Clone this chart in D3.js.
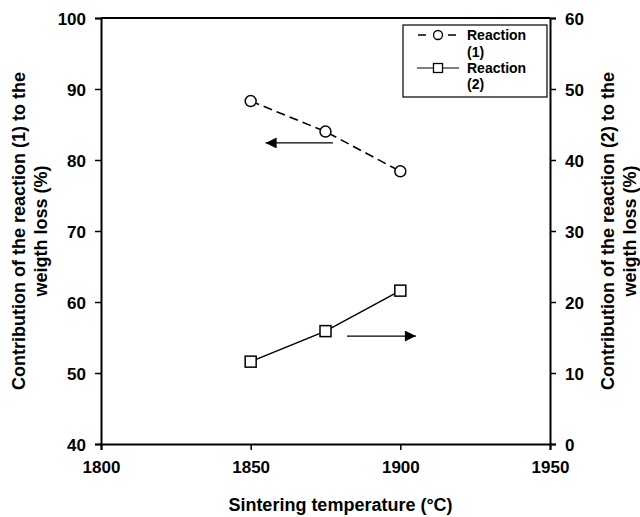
<!DOCTYPE html>
<html><head><meta charset="utf-8">
<script src="https://cdn.jsdelivr.net/npm/d3@7"></script>
<style>body{margin:0;background:#fff}svg{display:block}svg text{font-family:Arial,"Liberation Sans",sans-serif !important;font-weight:700 !important;fill:#000}</style>
</head><body>
<script>
const temperatures = [1850, 1875, 1900];
const reaction1 = [88.3, 84.0, 78.4];
const reaction2 = [11.6, 15.9, 21.6];
const xTicks = [1800, 1850, 1900, 1950];
const yLeftTicks = [40, 50, 60, 70, 80, 90, 100];
const yRightTicks = [0, 10, 20, 30, 40, 50, 60];
const seriesNames = ["Reaction (1)", "Reaction (2)"];

const W = 640, H = 517;
const m = {l: 101, r: 90, t: 18, b: 73};
const svg = d3.select("body").append("svg").attr("width", W).attr("height", H);
const x = d3.scaleLinear().domain([1800, 1950]).range([m.l, W - m.r]);
const yL = d3.scaleLinear().domain([40, 100]).range([H - m.b, m.t]);
const yR = d3.scaleLinear().domain([0, 60]).range([H - m.b, m.t]);

svg.append("defs").append("marker").attr("id", "ah").attr("viewBox", "0 0 10 10")
  .attr("refX", 10).attr("refY", 5).attr("markerWidth", 13).attr("markerHeight", 11)
  .attr("markerUnits", "userSpaceOnUse").attr("orient", "auto")
  .append("path").attr("d", "M0,0L10,5L0,10Z").attr("fill", "#000");

function styleAxis(g) {
  g.attr("font-family", null).attr("font-size", null);
  g.selectAll("path").attr("stroke", "#000").attr("stroke-width", 2);
  g.selectAll("line").attr("stroke", "#000").attr("stroke-width", 1.5);
  g.selectAll("text").attr("font-weight", "bold").style("font-size", "17px");
}
svg.append("line").attr("x1", m.l).attr("x2", W - m.r).attr("y1", m.t).attr("y2", m.t).attr("stroke", "#000").attr("stroke-width", 2);

const gx = svg.append("g").attr("transform", `translate(0,${H - m.b})`)
  .call(d3.axisBottom(x).tickValues(xTicks).tickFormat(d3.format("d")).tickSizeOuter(0).tickSize(6).tickPadding(11));
styleAxis(gx);
const gl = svg.append("g").attr("transform", `translate(${m.l},0)`)
  .call(d3.axisLeft(yL).tickValues(yLeftTicks).tickSizeOuter(0).tickSize(6).tickPadding(9));
styleAxis(gl);
gl.selectAll(".tick text").attr("dy", "0.36em");
const gr = svg.append("g").attr("transform", `translate(${W - m.r},0)`)
  .call(d3.axisRight(yR).tickValues(yRightTicks).tickSizeOuter(0).tickSize(6).tickPadding(9));
styleAxis(gr);
gr.selectAll(".tick text").attr("dy", "0.36em");

svg.append("text").attr("x", (m.l + W - m.r) / 2 + 15).attr("y", 511).attr("text-anchor", "middle")
  .style("font-size", "18px").text("Sintering temperature (°C)");
const lt = svg.append("text").attr("transform", `translate(25,231) rotate(-90)`).attr("text-anchor", "middle").style("font-size", "18px");
lt.append("tspan").attr("x", 0).attr("dy", 0).text("Contribution of the reaction (1) to the");
lt.append("tspan").attr("x", 0).attr("dy", 21.5).text("weigth loss (%)");
const rt = svg.append("text").attr("transform", `translate(614,231) rotate(-90)`).attr("text-anchor", "middle").style("font-size", "18px");
rt.append("tspan").attr("x", 0).attr("dy", 0).text("Contribution of the reaction (2) to the");
rt.append("tspan").attr("x", 0).attr("dy", 21.5).text("weigth loss (%)");

const d1 = temperatures.map((t, i) => [t, reaction1[i]]);
const d2 = temperatures.map((t, i) => [t, reaction2[i]]);
svg.append("path").datum(d1).attr("fill", "none").attr("stroke", "#000").attr("stroke-width", 1.6)
  .attr("stroke-dasharray", "9,5").attr("d", d3.line().x(d => x(d[0])).y(d => yL(d[1])));
svg.selectAll(".c1").data(d1).join("circle").attr("cx", d => x(d[0])).attr("cy", d => yL(d[1]))
  .attr("r", 5.5).attr("fill", "#fff").attr("stroke", "#000").attr("stroke-width", 1.5);
svg.append("path").datum(d2).attr("fill", "none").attr("stroke", "#000").attr("stroke-width", 1.5)
  .attr("d", d3.line().x(d => x(d[0])).y(d => yR(d[1])));
svg.selectAll(".s2").data(d2).join("rect").attr("x", d => x(d[0]) - 5.5).attr("y", d => yR(d[1]) - 5.5)
  .attr("width", 11).attr("height", 11).attr("fill", "#fff").attr("stroke", "#000").attr("stroke-width", 1.5);

svg.append("line").attr("x1", x(1877.5)).attr("x2", x(1855)).attr("y1", yL(82.4)).attr("y2", yL(82.4))
  .attr("stroke", "#000").attr("stroke-width", 1.2).attr("marker-end", "url(#ah)");
svg.append("line").attr("x1", x(1882.2)).attr("x2", x(1905.2)).attr("y1", yR(15.2)).attr("y2", yR(15.2))
  .attr("stroke", "#000").attr("stroke-width", 1.2).attr("marker-end", "url(#ah)");

const lg = svg.append("g");
lg.append("rect").attr("x", 403).attr("y", 25).attr("width", 144).attr("height", 72)
  .attr("fill", "#fff").attr("stroke", "#000").attr("stroke-width", 1.2);
lg.append("line").attr("x1", 417).attr("x2", 459).attr("y1", 35).attr("y2", 35).attr("stroke", "#000")
  .attr("stroke-width", 1.5).attr("stroke-dasharray", "8,7").attr("stroke-dashoffset", -1);
lg.append("circle").attr("cx", 438).attr("cy", 35).attr("r", 4.5).attr("fill", "#fff").attr("stroke", "#000").attr("stroke-width", 1.3);
lg.append("line").attr("x1", 417).attr("x2", 459).attr("y1", 68).attr("y2", 68).attr("stroke", "#000").attr("stroke-width", 1.2);
lg.append("rect").attr("x", 433.5).attr("y", 63.5).attr("width", 9).attr("height", 9).attr("fill", "#fff").attr("stroke", "#000").attr("stroke-width", 1.3);
[["Reaction", 40], ["(1)", 57], ["Reaction", 73], ["(2)", 89]].forEach(([t, yy]) => {
  lg.append("text").attr("x", 467).attr("y", yy).style("font-size", "14px").text(t);
});
</script>
</body></html>
